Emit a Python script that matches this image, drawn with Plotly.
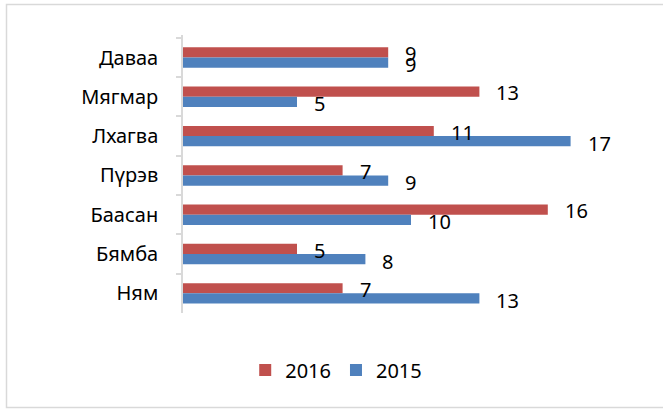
import plotly.graph_objects as go

categories = ["Даваа", "Мягмар", "Лхагва", "Пүрэв", "Баасан", "Бямба", "Ням"]
values_2016 = [9, 13, 11, 7, 16, 5, 7]
values_2015 = [9, 5, 17, 9, 10, 8, 13]
series_names = ["2016", "2015"]

RED = "#C0504D"
BLUE = "#4F81BD"
FONT = "Noto Sans"
FS = 20

fig = go.Figure()
fig.add_trace(go.Bar(y=categories, x=values_2016, name=series_names[0], orientation="h",
                     marker=dict(color=RED, line=dict(width=0))))
fig.add_trace(go.Bar(y=categories, x=values_2015, name=series_names[1], orientation="h",
                     marker=dict(color=BLUE, line=dict(width=0))))

annotations = []
for vals, ys in ((values_2016, 4), (values_2015, -7)):
    for c, v in zip(categories, vals):
        annotations.append(dict(x=v, y=c, xref="x", yref="y", text=str(v), showarrow=False,
                                xanchor="left", yanchor="middle", xshift=15, yshift=ys,
                                font=dict(family=FONT, size=FS, color="#000000")))

fig.update_layout(
    width=663, height=410,
    margin=dict(l=183, r=24, t=35, b=97),
    paper_bgcolor="white", plot_bgcolor="white",
    barmode="group", bargap=0.48, bargroupgap=0,
    showlegend=True,
    legend=dict(orientation="h", x=0.336, y=-0.205, xanchor="center", yanchor="middle",
                font=dict(family=FONT, size=FS, color="#000000"), traceorder="normal",
                itemwidth=30),
    xaxis=dict(range=[0, 20], visible=False, showgrid=False, zeroline=False),
    yaxis=dict(autorange="reversed", categoryorder="array", categoryarray=categories,
               showline=True, linecolor="#D9D9D9", linewidth=1.5,
               ticks="outside", tickson="boundaries", ticklen=5, tickcolor="#D9D9D9",
               tickwidth=1.5, ticklabelstandoff=19, showgrid=False,
               tickfont=dict(family=FONT, size=FS, color="#000000")),
    annotations=annotations,
    shapes=[dict(type="rect", xref="paper", yref="paper",
                 x0=(6.5 - 183) / 456, x1=(664 - 183) / 456,
                 y0=(313 - 407.5) / 278, y1=(313 - 4.5) / 278,
                 line=dict(color="#D9D9D9", width=1.5), fillcolor="rgba(0,0,0,0)")],
)

fig.write_html("out.html", config={"displayModeBar": False},
               post_script="document.body.style.margin='0';document.body.style.overflow='hidden';")
